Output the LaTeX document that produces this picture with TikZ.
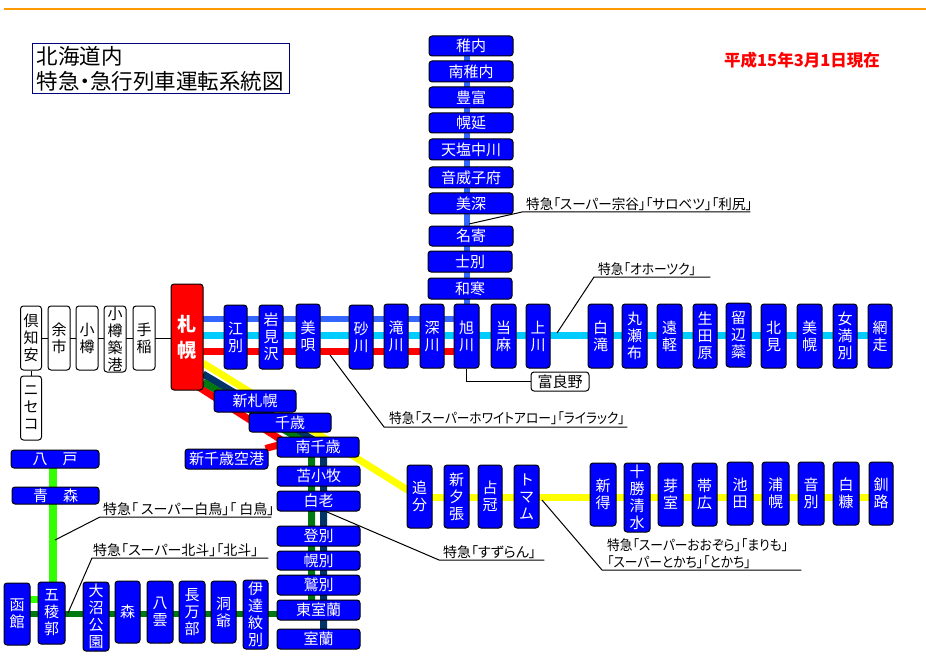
\documentclass[tikz,border=0pt]{standalone}
\usepackage{fontspec}
\setmainfont{Noto Sans CJK JP}
\newfontfamily\propfont[RawFeature={+palt}]{Noto Sans CJK JP}
\usetikzlibrary{backgrounds}
\definecolor{colorRule}{HTML}{FF9900}
\definecolor{colorTitle}{HTML}{000080}
\definecolor{colorSoya}{HTML}{3366FF}
\definecolor{colorOkhotsk}{HTML}{00CCFF}
\definecolor{colorLilac}{HTML}{FF0000}
\definecolor{colorOzora}{HTML}{FFFF00}
\definecolor{colorSuzuran}{HTML}{003366}
\definecolor{colorHokuto}{HTML}{007A10}
\definecolor{colorHakucho}{HTML}{33FF00}
\tikzset{
	stationbox/.style={draw=black, line width=1pt, rounded corners=3pt, fill=blue, text=white, inner sep=0pt, align=center, font=\fontsize{15}{17}\selectfont},
	whitebox/.style={stationbox, fill=white, text=black},
	hubbox/.style={stationbox, fill=red, font=\fontsize{19}{26}\selectfont\bfseries},
	trainlabel/.style={anchor=south west, inner xsep=4pt, inner ysep=1.5pt, align=left, font=\propfont\addfontfeature{FakeStretch=#1}\fontsize{14}{17}\selectfont},
	trainlabel/.default=1,
	leader/.style={draw=black, line width=1pt},
}
\begin{document}
\begin{tikzpicture}[x=1pt, y=-1pt]
	\useasboundingbox (0,0) rectangle (926,663);

	\draw[color=colorRule, line width=2pt] (4,9) to (926,9);
	\node[draw=colorTitle, line width=1pt, inner sep=0pt, minimum width=257, minimum height=50, text width=249, align=left, font=\propfont\fontsize{21.5}{24.5}\selectfont] (title) at (161,69) {北海道内\\特急・急行列車運転系統図\\[3pt]};
	\node[text=red, inner sep=0pt, font=\fontsize{16.5}{19}\selectfont\bfseries] (datenote) at (802,60) {平成15年3月1日現在};

	% blue stations
	\foreach \id/\cx/\cy/\w/\h/\txt in {
		wakkanai/471/46/84/20/稚内, minamiwakkanai/471/71.5/84/21/南稚内, toyotomi/471/97.5/84/21/豊富,
		horonobe/471/123/84/20/幌延, teshio/471/149.5/84/21/天塩中川, otoineppu/471/177.5/84/21/音威子府,
		bifuka/471/203.5/84/21/美深, nayoro/471/236/84/20/名寄, shibetsu/470/261.5/84/21/士別, wassamu/470/288.5/84/21/和寒,
		ebetsu/235.5/337/23/64/江\\別, iwamizawa/271/337/24/64/岩\\見\\沢, bibai/308/336/24/64/美\\唄,
		sunagawa/361/337/24/64/砂\\川, takikawa/396/336/24/64/滝\\川, fukagawa/432/336/24/64/深\\川,
		asahikawa/466.5/336/25/64/旭\\川, toma/503.5/336/25/64/当\\麻, kamikawa/538/336/24/64/上\\川,
		shirataki/600.5/336/25/64/白\\滝, maruseppu/634.5/336/25/64/丸\\瀬\\布, engaru/669.5/336/25/64/遠\\軽,
		ikutahara/705/336/24/64/生\\田\\原, rubeshibe/738.5/335/25/64/留\\辺\\蘂, kitami/773.5/336/25/64/北\\見,
		bihoro/809.5/336/25/64/美\\幌, memanbetsu/845/336/24/64/女\\満\\別, abashiri/880/336/24/64/網\\走,
		shinsapporo/255/401/82/22/新札幌, chitose/290/422.5/82/19/千歳, minamichitose/318/447/82/20/南千歳,
		shinchitose/226.5/459/83/20/新千歳空港, tomakomai/318.5/476/83/20/苫小牧, shiraoi/318.5/501/83/20/白老,
		noboribetsu/318.5/536/83/20/登別, horobetsu/318.5/560.5/83/19/幌別, washibetsu/318.5/585/83/20/鷲別,
		higashimuroran/318.5/610/83/20/東室蘭, muroran/318.5/639/83/20/室蘭,
		hachinohe/55/459/88/18/八　戸, aomori/55.5/495.5/87/17/青　森,
		hakodate/17/614/26/62/函\\館, goryokaku/51.5/613/27/62/五\\稜\\郭, onuma/96/616.5/26/69/大\\沼\\公\\園,
		mori/127.5/612/25/62/森, yakumo/160/612/26/62/八\\雲, oshamambe/192/612/26/62/長\\万\\部,
		toya/223.5/612/25/62/洞\\爺, date/255.5/614.5/25/69/伊\\達\\紋\\別,
		oiwake/419.5/496.5/25/63/追\\分, shinyubari/456.5/496.5/25/63/新\\夕\\張, shimukappu/490/496.5/24/63/占\\冠,
		tomamu/526.5/496.5/25/63/ト\\マ\\ム, shintoku/603/494.5/26/63/新\\得, tokachishimizu/637/497.5/26/69/十\\勝\\清\\水,
		memuro/670.5/494.5/25/63/芽\\室, obihiro/704.5/494.5/25/63/帯\\広, ikeda/740/493.5/26/63/池\\田,
		urahoro/775.5/493.5/27/63/浦\\幌, onbetsu/811/493.5/26/63/音\\別, shiranuka/846/493.5/26/63/白\\糠, kushiro/881/493.5/24/63/釧\\路%
	}{
		\node[stationbox, minimum width=\w, minimum height=\h] (\id) at (\cx,\cy) {\txt};
	}

	% white stations
	\foreach \id/\cx/\cy/\w/\h/\txt in {
		kutchan/31/338/21/64/倶\\知\\安, yoichi/59/338/22/64/余\\市, otaru/87/338/22/64/小\\樽,
		otarutsukiko/115/339/22/66/小\\樽\\築\\港, teine/144/338/22/64/手\\稲,
		niseko/31/408/21/64/ニ\\セ\\コ, furano/560/381.5/58/19/富良野%
	}{
		\node[whitebox, minimum width=\w, minimum height=\h] (\id) at (\cx,\cy) {\txt};
	}
	\node[hubbox, minimum width=32, minimum height=106] (sapporo) at (187,337) {札\\幌};

	% train names
	\node[trainlabel=0.97, text width=220] (soyalabel) at (522,212) {特急「スーパー宗谷」「サロベツ」「利尻」};
	\node[trainlabel=0.91, text width=108] (okhotsklabel) at (594,277) {特急「オホーツク」};
	\node[trainlabel=0.91, inner xsep=5pt, inner ysep=2.5pt, text width=233] (lilaclabel) at (384,427) {特急「スーパーホワイトアロー」「ライラック」};
	\node[trainlabel, text width=97] (suzuranlabel) at (439,560) {特急「すずらん」};
	\node[trainlabel=0.91, inner xsep=5pt, text width=189] (ozoralabel) at (602,570) {特急「スーパーおおぞら」「まりも」\\「スーパーとかち」「とかち」};
	\node[trainlabel, inner xsep=3pt, text width=165] (hakucholabel) at (100,517) {\mbox{特急「\kern3pt スーパー白鳥」「\kern3pt 白鳥」}};
	\node[trainlabel, inner xsep=1pt, text width=174] (hokutolabel) at (92,558) {特急「スーパー北斗」「北斗」};

	\coordinate (soyaY) at (0,319);
	\coordinate (okhotskY) at (0,335.5);
	\coordinate (lilacY) at (0,351.5);
	\coordinate (ozoraY) at (0,497.5);
	\coordinate (hokutoY) at (0,613.5);
	\coordinate (hakuchoY) at (0,599.5);
	\coordinate (hakuchoX) at (53,0);
	\coordinate (hokutoX) at (311.5,0);
	\coordinate (suzuranX) at (323.5,0);
	\coordinate (ozoraSapporo) at (203,363);
	\coordinate (suzuranSapporo) at (203,374);
	\coordinate (hokutoSapporo) at (203,382);
	\coordinate (lilacSapporo) at (197,386);
	\coordinate (ozoraChitose) at (334,444);
	\coordinate (suzuranChitose) at (323.5,446);
	\coordinate (hokutoChitose) at (311.5,446);
	\coordinate (airportBend) at (286,443);

	\coordinate (soyaTip) at (469,224);
	\coordinate (okhotskTip) at (557,333);
	\coordinate (lilacTip) at (330,355);
	\coordinate (suzuranTip) at (327,512);
	\coordinate (ozoraTip) at (542,500);
	\coordinate (hakuchoTip) at (55,540);
	\coordinate (hokutoTip) at (68,613);

	\begin{scope}[on background layer]
		\draw[color=colorSoya, line width=6pt] (asahikawa |- wakkanai) to (asahikawa);
		\draw[color=colorSoya, line width=6pt] (sapporo |- soyaY) to (asahikawa |- soyaY);
		\draw[color=colorOkhotsk, line width=7pt] (sapporo |- okhotskY) to (abashiri |- okhotskY);
		\draw[color=colorLilac, line width=7pt] (sapporo |- lilacY) to (asahikawa |- lilacY);

		\draw[color=colorLilac, line width=7pt] (lilacSapporo) to (airportBend) to (shinchitose);
		\draw[color=colorOzora, line width=7pt] (ozoraSapporo) to (ozoraChitose) to (oiwake |- ozoraY);
		\draw[color=colorOzora, line width=7pt] (oiwake |- ozoraY) to (kushiro |- ozoraY);
		\draw[color=colorSuzuran, line width=7pt] (suzuranSapporo) to (suzuranChitose) to (suzuranX |- muroran);
		\draw[color=colorHokuto, line width=7pt] (hokutoSapporo) to (hokutoChitose) to (hokutoX |- higashimuroran);
		\draw[color=colorHokuto, line width=6pt] (hakodate |- hokutoY) to (higashimuroran |- hokutoY);
		\draw[color=colorHakucho, line width=7.5pt] (hakuchoX |- hachinohe) to (hakuchoX |- goryokaku);
		\draw[color=colorHakucho, line width=7pt] (hakodate |- hakuchoY) to (goryokaku |- hakuchoY);

		\draw[leader] (kutchan |- otaru) to (sapporo |- otaru);
		\draw[leader] (kutchan) to (niseko);
		\draw[leader] (asahikawa) |- (furano);
	\end{scope}

	\draw[leader] (soyaTip) to (soyalabel.south west) to (soyalabel.south east);
	\draw[leader] (okhotskTip) to (okhotsklabel.south west) to (okhotsklabel.south east);
	\draw[leader] (lilacTip) to (lilaclabel.south west) to (lilaclabel.south east);
	\draw[leader] (suzuranTip) to (suzuranlabel.south west) to (suzuranlabel.south east);
	\draw[leader] (ozoraTip) to (ozoralabel.south west) to (ozoralabel.south east);
	\draw[leader] (hakuchoTip) to (hakucholabel.south west) to (hakucholabel.south east);
	\draw[leader] (hokutoTip) to (hokutolabel.south west) to (hokutolabel.south east);
\end{tikzpicture}
\end{document}
